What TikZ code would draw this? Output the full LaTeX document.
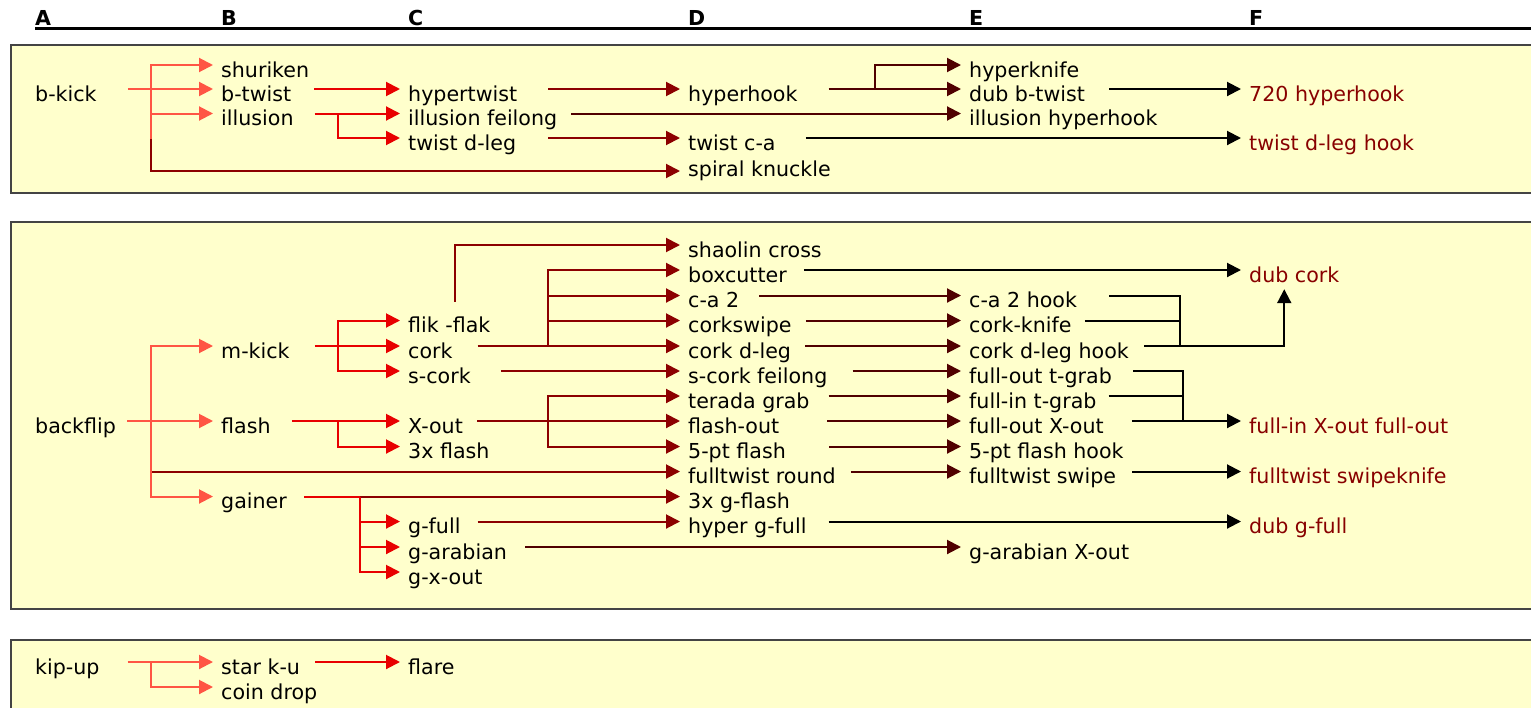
\documentclass[tikz,border=0pt]{standalone}
\usepackage{fontspec}
\setmainfont{DejaVu Sans}
\usepackage{tikz}
\usetikzlibrary{arrows.meta}

\definecolor{panelfill}{HTML}{FFFFCC}
\definecolor{panelline}{HTML}{444444}
\definecolor{colA}{HTML}{FF5544}
\definecolor{colB}{HTML}{E80000}
\definecolor{colC}{HTML}{8C0000}
\definecolor{colD}{HTML}{500000}
\definecolor{fincol}{HTML}{880000}

\begin{document}
\begin{tikzpicture}[
  x=1pt, y=-1pt,
  font=\fontsize{20.6pt}{25pt}\selectfont,
  mv/.style={anchor=west, inner sep=0pt, text height=29pt, text depth=5pt},
  fin/.style={mv, text=fincol},
  hdr/.style={anchor=base west, inner sep=0pt, font=\fontsize{20.6pt}{25pt}\selectfont\bfseries},
  panel/.style={draw=panelline, fill=panelfill, line width=2pt},
  arr/.style={-{Triangle[length=14pt,width=14pt]}, line width=2pt, shorten >=8pt},
  ln/.style={-, shorten >=0pt},
  ab/.style={arr, draw=colA},
  bc/.style={arr, draw=colB},
  cd/.style={arr, draw=colC},
  de/.style={arr, draw=colD},
  ef/.style={arr, draw=black}
]
\useasboundingbox (0,0) rectangle (1531,707);
\clip (0,0) rectangle (1531,707);

% column heads
\node[hdr] (hA) at (35,25) {A};
\node[hdr] (hB) at (221,25) {B};
\node[hdr] (hC) at (408,25) {C};
\node[hdr] (hD) at (688,25) {D};
\node[hdr] (hE) at (969,25) {E};
\node[hdr] (hF) at (1249,25) {F};
\draw[line width=2.7pt] ([yshift=-3.5pt]hA.base west) -- ++(1510,0);

% panels
\draw[panel] (11,45) rectangle (1550,193);
\draw[panel] (11,222) rectangle (1550,609);
\draw[panel] (11,640) rectangle (1550,730);

% b-kick
\node[mv] (bkick) at (35,89) {b-kick};
\node[mv] (shuriken) at (221,65) {shuriken};
\node[mv] (btwist) at (221,89) {b-twist};
\node[mv] (illusion) at (221,113.5) {illusion};
\node[mv] (hypertwist) at (408,89) {hypertwist};
\node[mv] (illfeilong) at (408,113.5) {illusion feilong};
\node[mv] (twistdleg) at (408,138) {twist d-leg};
\node[mv] (hyperhook) at (688,89) {hyperhook};
\node[mv] (twistca) at (688,138) {twist c-a};
\node[mv] (spiral) at (688,164) {spiral knuckle};
\node[mv] (hyperknife) at (969,65) {hyperknife};
\node[mv] (dubbtwist) at (969,89) {dub b-twist};
\node[mv] (illhyperhook) at (969,113.5) {illusion hyperhook};
\node[fin] (hh720) at (1249,89) {720 hyperhook};
\node[fin] (twistdleghook) at (1249,138) {twist d-leg hook};

\coordinate (bkfork) at (151,89);
\coordinate (ilfork) at (338,113.5);
\coordinate (hhfork) at (875,89);
\draw[cd] (bkfork) |- ([yshift=-7pt]spiral.west);
\draw[ab, ln] (bkfork) -- ++(0,50);
\draw[ab] ([xshift=31pt]bkick.east) -- (btwist.west);
\draw[ab] (bkfork) |- (shuriken.west);
\draw[ab] (bkfork) |- (illusion.west);
\draw[bc] ([xshift=23pt]btwist.east) -- (hypertwist.west);
\draw[bc] ([xshift=21pt]illusion.east) -- (illfeilong.west);
\draw[bc] (ilfork) |- (twistdleg.west);
\draw[cd] ([xshift=31pt]hypertwist.east) -- (hyperhook.west);
\draw[de] ([xshift=14pt]illfeilong.east) -- (illhyperhook.west);
\draw[cd] ([xshift=32pt]twistdleg.east) -- (twistca.west);
\draw[de] ([xshift=31pt]hyperhook.east) -- (dubbtwist.west);
\draw[de] (hhfork) |- (hyperknife.west);
\draw[ef] ([xshift=24pt]dubbtwist.east) -- (hh720.west);
\draw[ef] ([xshift=30pt]twistca.east) -- (twistdleghook.west);

% backflip
\node[mv] (backflip) at (35,421) {backflip};
\node[mv] (mkick) at (221,346) {m-kick};
\node[mv] (flash) at (221,421) {flash};
\node[mv] (gainer) at (221,496.5) {gainer};
\node[mv] (flikflak) at (408,320.5) {flik -flak};
\node[mv] (cork) at (408,346) {cork};
\node[mv] (scork) at (408,371) {s-cork};
\node[mv] (xout) at (408,421) {X-out};
\node[mv] (flash3) at (408,446.5) {3x flash};
\node[mv] (gfull) at (408,521.5) {g-full};
\node[mv] (garabian) at (408,547) {g-arabian};
\node[mv] (gxout) at (408,572) {g-x-out};
\node[mv] (shaolin) at (688,245) {shaolin cross};
\node[mv] (boxcutter) at (688,270) {boxcutter};
\node[mv] (ca2) at (688,295.5) {c-a 2};
\node[mv] (corkswipe) at (688,320.5) {corkswipe};
\node[mv] (corkdleg) at (688,346) {cork d-leg};
\node[mv] (scorkfeilong) at (688,371) {s-cork feilong};
\node[mv] (terada) at (688,396) {terada grab};
\node[mv] (flashout) at (688,421) {flash-out};
\node[mv] (pt5flash) at (688,446.5) {5-pt flash};
\node[mv] (ftround) at (688,471.5) {fulltwist round};
\node[mv] (gflash3) at (688,496.5) {3x g-flash};
\node[mv] (hypergfull) at (688,521.5) {hyper g-full};
\node[mv] (ca2hook) at (969,295.5) {c-a 2 hook};
\node[mv] (corkknife) at (969,320.5) {cork-knife};
\node[mv] (cdlhook) at (969,346) {cork d-leg hook};
\node[mv] (fotgrab) at (969,371) {full-out t-grab};
\node[mv] (fitgrab) at (969,396) {full-in t-grab};
\node[mv] (foxout) at (969,421) {full-out X-out};
\node[mv] (pt5hook) at (969,446.5) {5-pt flash hook};
\node[mv] (ftswipe) at (969,471.5) {fulltwist swipe};
\node[mv] (garabxout) at (969,547) {g-arabian X-out};
\node[fin] (dubcork) at (1249,270) {dub cork};
\node[fin] (fixofo) at (1249,421) {full-in X-out full-out};
\node[fin] (ftswipeknife) at (1249,471.5) {fulltwist swipeknife};
\node[fin] (dubgfull) at (1249,521.5) {dub g-full};

\coordinate (bffork) at (151,421);
\coordinate (mkfork) at (338,346);
\coordinate (flfork) at (338,421);
\coordinate (gnfork) at (360,496.5);
\coordinate (ckfork) at (548,346);
\coordinate (xofork) at (548,421);
\coordinate (dcjoin) at (1179.5,346);
\coordinate (fxjoin) at (1183,421);

\draw[cd] (bffork) |- (ftround.west);
\draw[ab] ([xshift=11pt]backflip.east) -- (flash.west);
\draw[ab] (bffork) |- (mkick.west);
\draw[ab] (bffork) |- (gainer.west);
\draw[bc] ([xshift=25pt]mkick.east) -- (cork.west);
\draw[bc] (mkfork) |- (flikflak.west);
\draw[bc] (mkfork) |- (scork.west);
\draw[bc] ([xshift=21pt]flash.east) -- (xout.west);
\draw[bc] (flfork) |- (flash3.west);
\draw[bc, ln] ([xshift=17pt]gainer.east) -- (gnfork);
\draw[cd] (gnfork) -- (gflash3.west);
\draw[bc] (gnfork) |- (gfull.west);
\draw[bc] (gnfork) |- (garabian.west);
\draw[bc] (gnfork) |- (gxout.west);

\draw[cd] ([xshift=47pt,yshift=19pt]flikflak.west) |- (shaolin.west);
\draw[cd] ([xshift=25pt]cork.east) -- (corkdleg.west);
\draw[cd] (ckfork) |- (boxcutter.west);
\draw[cd] (ckfork) |- (ca2.west);
\draw[cd] (ckfork) |- (corkswipe.west);
\draw[cd] ([xshift=30pt]scork.east) -- (scorkfeilong.west);
\draw[cd] ([xshift=14pt]xout.east) -- (flashout.west);
\draw[cd] (xofork) |- (terada.west);
\draw[cd] (xofork) |- (pt5flash.west);
\draw[cd] ([xshift=17pt]gfull.east) -- (hypergfull.west);
\draw[de] ([xshift=18pt]garabian.east) -- (garabxout.west);

\draw[de] ([xshift=20pt]ca2.east) -- (ca2hook.west);
\draw[de] ([xshift=14pt]corkswipe.east) -- (corkknife.west);
\draw[de] ([xshift=14pt]corkdleg.east) -- (cdlhook.west);
\draw[de] ([xshift=25pt]scorkfeilong.east) -- (fotgrab.west);
\draw[de] ([xshift=19pt]terada.east) -- (fitgrab.west);
\draw[de] ([xshift=48pt]flashout.east) -- (foxout.west);
\draw[de] ([xshift=43pt]pt5flash.east) -- (pt5hook.west);
\draw[de] ([xshift=15pt]ftround.east) -- (ftswipe.west);

\draw[ef] ([xshift=17pt]boxcutter.east) -- (dubcork.west);
\draw[ef, ln] ([xshift=32pt]ca2hook.east) -| (dcjoin);
\draw[ef, ln] ([xshift=13pt]corkknife.east) -| (dcjoin);
\draw[ef, shorten >=0pt] ([xshift=15pt]cdlhook.east) -| ([xshift=-10pt,yshift=-2pt]dubcork.south);
\draw[ef, ln] ([xshift=21pt]fotgrab.east) -| (fxjoin);
\draw[ef, ln] ([xshift=12pt]fitgrab.east) -| (fxjoin);
\draw[ef] ([xshift=28pt]foxout.east) -- (fixofo.west);
\draw[ef] ([xshift=16pt]ftswipe.east) -- (ftswipeknife.west);
\draw[ef] ([xshift=22pt]hypergfull.east) -- (dubgfull.west);

% kip-up
\node[mv] (kipup) at (35,662) {kip-up};
\node[mv] (starku) at (221,662) {star k-u};
\node[mv] (coindrop) at (221,687) {coin drop};
\node[mv] (flare) at (408,662) {flare};
\coordinate (kufork) at (151,662);
\draw[ab] ([xshift=28pt]kipup.east) -- (starku.west);
\draw[ab] (kufork) |- (coindrop.west);
\draw[bc] ([xshift=15pt]starku.east) -- (flare.west);
\end{tikzpicture}
\end{document}
